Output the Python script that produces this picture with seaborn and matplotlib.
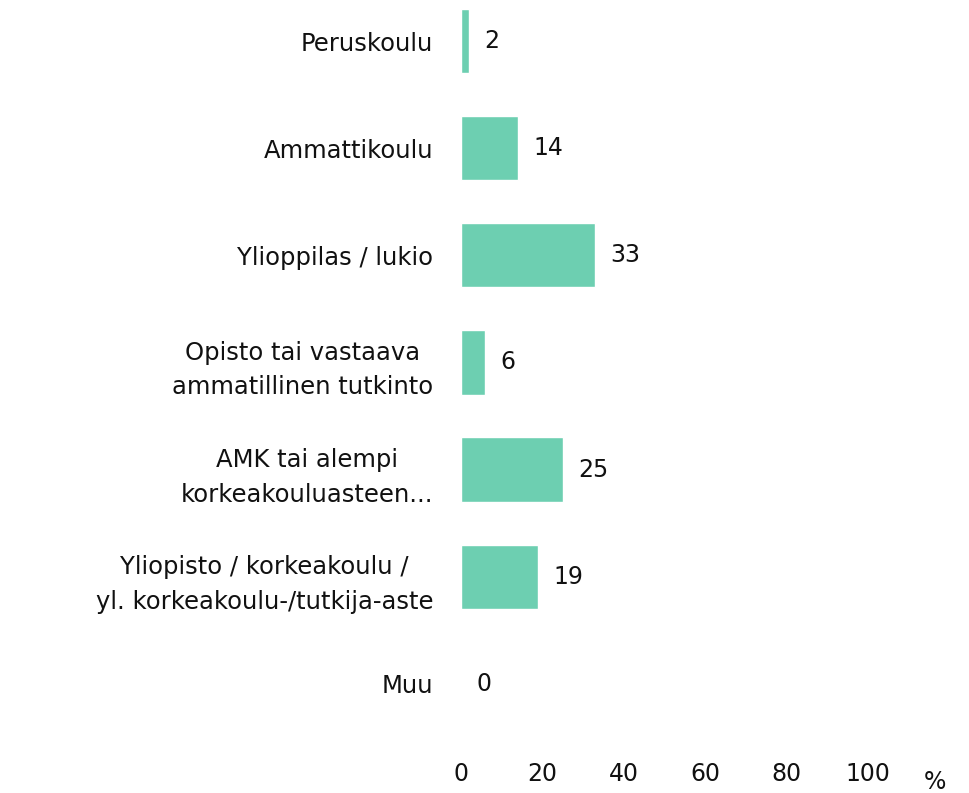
import pandas as pd
import matplotlib.pyplot as plt
import seaborn as sns

categories = [
    "Peruskoulu",
    "Ammattikoulu",
    "Ylioppilas / lukio",
    "Opisto tai vastaava\nammatillinen tutkinto",
    "AMK tai alempi\nkorkeakouluasteen...",
    "Yliopisto / korkeakoulu /\nyl. korkeakoulu-/tutkija-aste",
    "Muu",
]
values = [2, 14, 33, 6, 25, 19, 0]
x_ticks = [0, 20, 40, 60, 80, 100]

df = pd.DataFrame({"category": categories, "value": values})

sns.set_style("white")
plt.rcParams["font.family"] = ["DejaVu Sans"]

fig = plt.figure(figsize=(9.69, 7.93), dpi=100)
ax = fig.add_axes([0.4757, 0.07, 0.4201, 0.93])

sns.barplot(data=df, x="value", y="category", orient="h", color="#6dcfb1",
            saturation=1, width=0.6, ax=ax)

for i, v in enumerate(values):
    ax.text(v + 3.7, i, str(v), va="center", ha="left", fontsize=17, color="#111111")

ax.set_xlim(0, 100)
ax.set_ylim(6.5, -0.383)
ax.set_xticks(x_ticks)
ax.set_xlabel("")
ax.set_ylabel("")
ax.tick_params(axis="x", length=0, pad=18, labelsize=17, labelcolor="#111111")
ax.tick_params(axis="y", length=0, pad=20, labelsize=17.5, labelcolor="#111111")
for lbl in ax.get_yticklabels():
    lbl.set_multialignment("center")
    lbl.set_linespacing(1.55)
sns.despine(ax=ax, left=True, bottom=True)

fig.text(0.965, 0.014, "%", ha="center", va="center", fontsize=17, color="#111111")

fig.savefig("out.png", dpi=100)
